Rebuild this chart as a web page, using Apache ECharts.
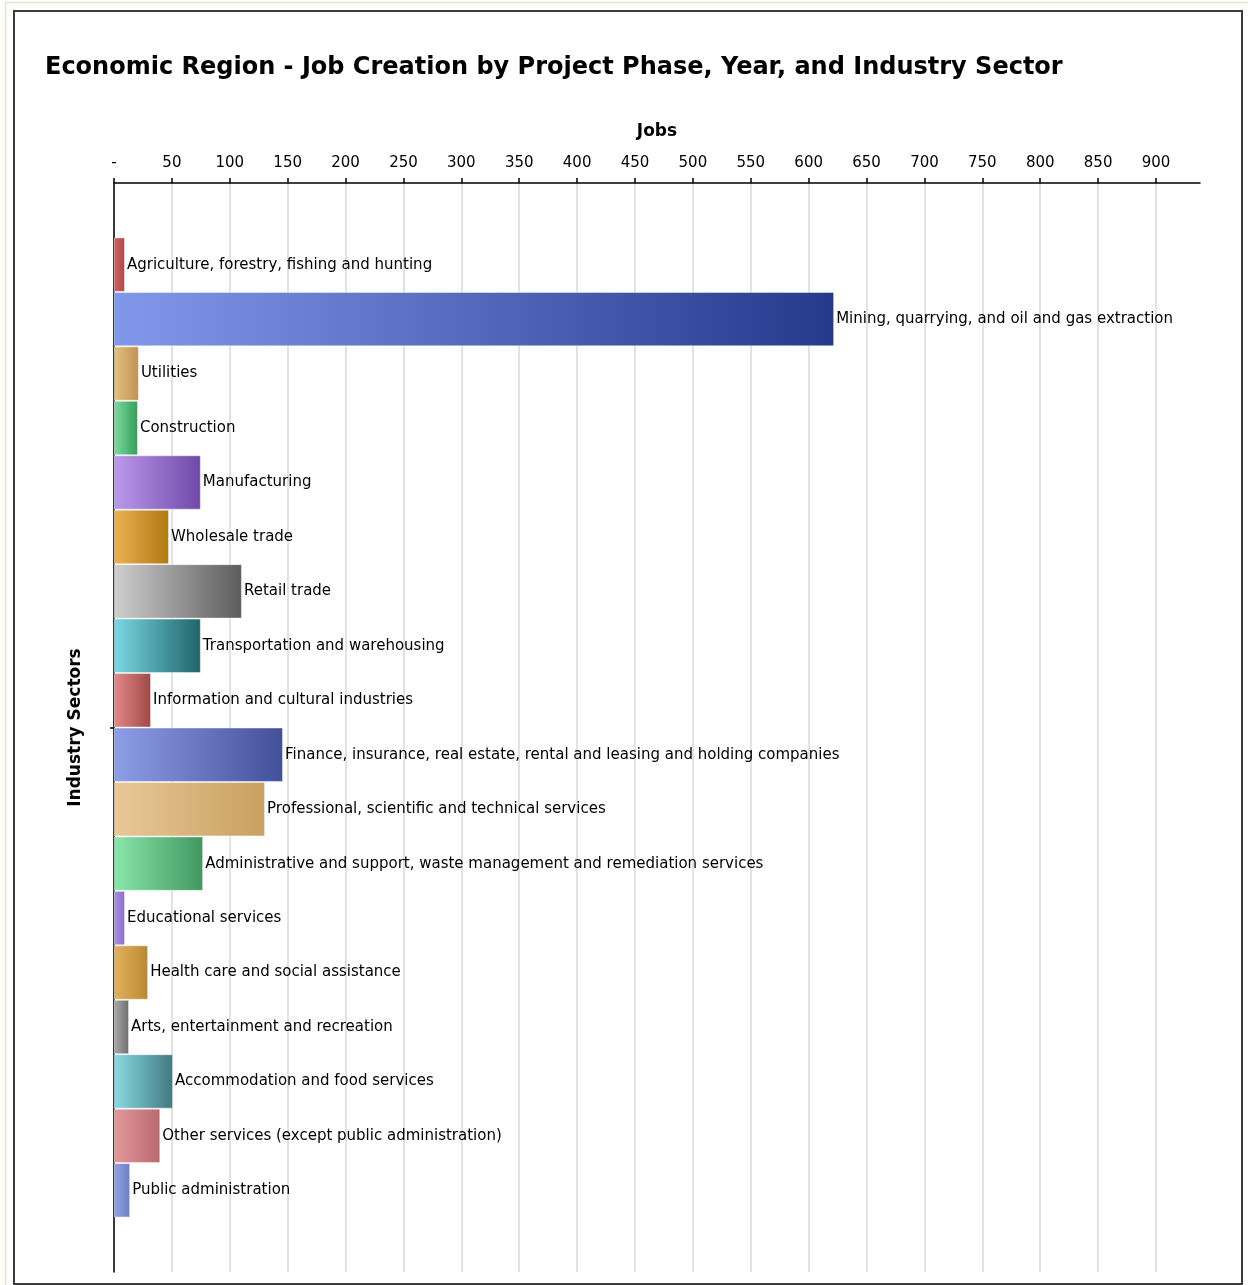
<!DOCTYPE html>
<html>
<head>
<meta charset="utf-8">
<script src="https://cdn.jsdelivr.net/npm/echarts@6/dist/echarts.min.js"></script>
<style>
html,body{margin:0;padding:0;background:#fff;}
#chart{width:1248px;height:1285px;}
</style>
</head>
<body>
<div id="chart"></div>
<script>
const title = 'Economic Region - Job Creation by Project Phase, Year, and Industry Sector';
const xAxisTitle = 'Jobs';
const yAxisTitle = 'Industry Sectors';
const sectors = [
  'Agriculture, forestry, fishing and hunting',
  'Mining, quarrying, and oil and gas extraction',
  'Utilities',
  'Construction',
  'Manufacturing',
  'Wholesale trade',
  'Retail trade',
  'Transportation and warehousing',
  'Information and cultural industries',
  'Finance, insurance, real estate, rental and leasing and holding companies',
  'Professional, scientific and technical services',
  'Administrative and support, waste management and remediation services',
  'Educational services',
  'Health care and social assistance',
  'Arts, entertainment and recreation',
  'Accommodation and food services',
  'Other services (except public administration)',
  'Public administration'
];
const jobs = [9.5, 622, 21.5, 20.7, 75, 47.5, 110.5, 75, 32, 146, 130.5, 77, 9.5, 29.5, 13, 51, 40, 14];
const xTickStep = 50;
const xMax = 938;

const barColors = [
  ['#cc6464', '#b04646'],
  ['#8298ea', '#263a8c'],
  ['#e2c282', '#c09050'],
  ['#82daa2', '#2e9e58'],
  ['#ba9aea', '#7048a8'],
  ['#eab252', '#b07812'],
  ['#cecece', '#5c5c5c'],
  ['#7ad8e4', '#1e6468'],
  ['#e28a8a', '#a04848'],
  ['#8e9ee6', '#42509a'],
  ['#e8c898', '#c8a060'],
  ['#8ae6aa', '#409860'],
  ['#aa92e2', '#8c6cc6'],
  ['#e2b262', '#b88830'],
  ['#aaaaaa', '#6e6e6e'],
  ['#8adae2', '#407880'],
  ['#e29a9a', '#b86870'],
  ['#92a2e2', '#6e7ec8']
];

const cats = [''].concat(sectors, ['']);
const seriesData = [null].concat(jobs.map(function (v, i) {
  const c = barColors[i % barColors.length];
  return {
    value: v,
    itemStyle: {
      color: new echarts.graphic.LinearGradient(0, 0, 1, 0, [
        { offset: 0, color: c[0] },
        { offset: 1, color: c[1] }
      ])
    }
  };
}), [null]);

const chart = echarts.init(document.getElementById('chart'), null, { renderer: 'canvas' });
const FONT = 'DejaVu Sans';
chart.setOption({
  animation: false,
  backgroundColor: '#ffffff',
  title: {
    text: title,
    left: 40,
    top: 51,
    textStyle: { fontFamily: FONT, fontSize: 24, fontWeight: 'bold', color: '#000' }
  },
  graphic: [
    { type: 'rect', shape: { x: 5.5, y: 2.5, width: 1248, height: 1290 }, style: { fill: null, stroke: '#e6e3d2', lineWidth: 1.5 }, silent: true },
    { type: 'rect', shape: { x: 14, y: 11, width: 1228, height: 1273 }, style: { fill: null, stroke: '#3c3c3c', lineWidth: 2 }, silent: true }
  ],
  grid: { left: 114, top: 183, right: 48, bottom: 13, containLabel: false },
  xAxis: {
    type: 'value',
    position: 'top',
    min: 0,
    max: xMax,
    interval: xTickStep,
    name: xAxisTitle,
    nameLocation: 'middle',
    nameGap: 43,
    nameTextStyle: { fontFamily: FONT, fontSize: 17, fontWeight: 'bold', color: '#000' },
    axisLine: { show: true, lineStyle: { color: '#000', width: 1.5 } },
    axisTick: { show: true, length: 5, lineStyle: { color: '#000', width: 1.5 } },
    axisLabel: {
      fontFamily: FONT, fontSize: 15, color: '#000', margin: 12,
      showMaxLabel: false,
      formatter: function (v) { return v === 0 ? '-' : String(v); }
    },
    splitLine: { show: true, showMaxLine: false, lineStyle: { color: '#e2e2e2', width: 2 } }
  },
  yAxis: [
    {
      type: 'category',
      inverse: true,
      data: cats,
      show: false,
      boundaryGap: true
    },
    {
      type: 'category',
      data: [''],
      position: 'left',
      name: yAxisTitle,
      nameLocation: 'middle',
      nameGap: 30,
      nameTextStyle: { fontFamily: FONT, fontSize: 17, fontWeight: 'bold', color: '#000' },
      axisLine: { show: true, lineStyle: { color: '#000', width: 1.5 } },
      axisTick: { show: true, alignWithLabel: true, length: 4, lineStyle: { color: '#000', width: 1.5 } },
      axisLabel: { show: false },
      splitLine: { show: false }
    }
  ],
  series: [{
    type: 'bar',
    yAxisIndex: 0,
    data: seriesData,
    barCategoryGap: '0%',
    itemStyle: { borderColor: 'rgba(255,255,255,0.45)', borderWidth: 1 },
    label: {
      show: true,
      position: 'right',
      distance: 2,
      fontFamily: FONT,
      fontSize: 15,
      color: '#000',
      formatter: function (p) { return p.name; }
    }
  }]
});
</script>
</body>
</html>
